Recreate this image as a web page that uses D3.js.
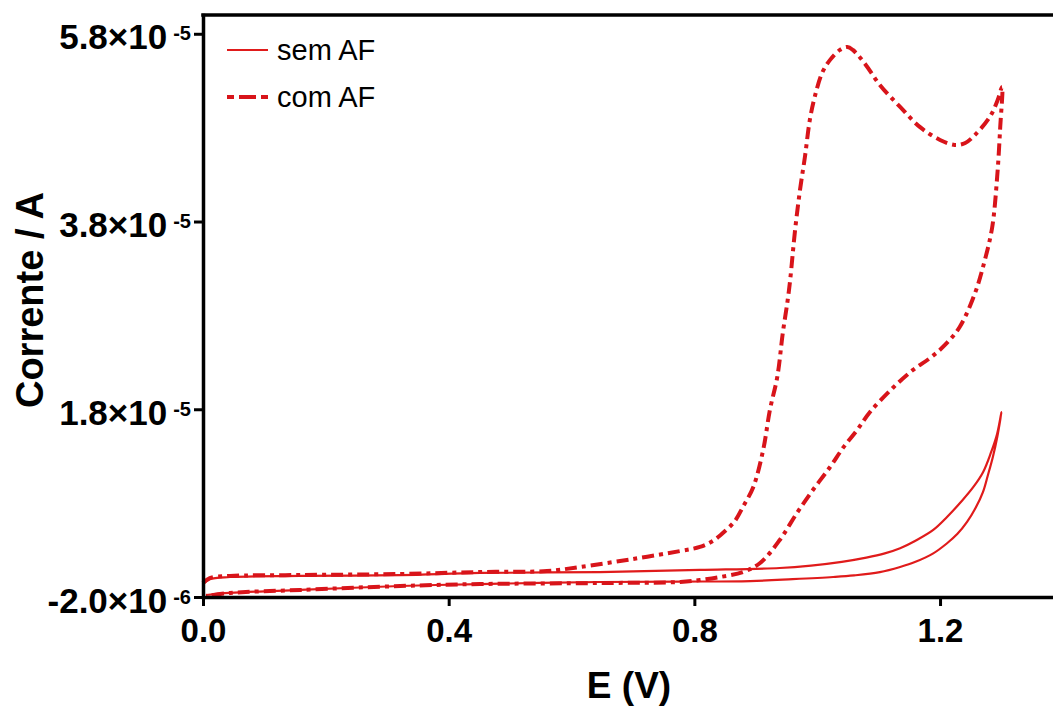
<!DOCTYPE html>
<html><head><meta charset="utf-8">
<script src="https://cdn.jsdelivr.net/npm/d3@7"></script>
<style>body{margin:0;background:#fff} svg{display:block}</style>
</head><body><svg id="c" width="1053" height="708"></svg>
<script>
// Potential (V) and current (units of 1e-5 A)
const semE = [0.000,0.011,0.044,0.158,0.321,0.451,0.646,0.809,0.939,0.990,1.040,1.080,1.110,1.135,1.160,1.189,1.211,1.235,1.254,1.270,1.283,1.293,1.300,
              1.293,1.286,1.278,1.270,1.258,1.244,1.228,1.211,1.189,1.160,1.135,1.102,1.060,1.026,0.960,0.891,0.780,0.646,0.451,0.321,0.158,0.044,0.005];
const semI = [-0.060,-0.010,0.013,0.024,0.034,0.056,0.066,0.088,0.109,0.135,0.175,0.220,0.265,0.320,0.400,0.515,0.650,0.820,0.970,1.130,1.340,1.540,1.771,
              1.500,1.292,1.100,0.920,0.750,0.600,0.470,0.370,0.265,0.175,0.120,0.065,0.030,0.013,-0.010,-0.030,-0.036,-0.040,-0.062,-0.083,-0.125,-0.157,-0.179];
const comE = [0.000,0.011,0.044,0.158,0.321,0.451,0.560,0.614,0.700,0.777,0.809,0.830,0.850,0.866,0.879,0.896,0.912,0.923,0.935,0.944,0.952,0.956,0.964,0.972,0.980,0.988,0.996,1.008,1.021,1.037,1.049,1.058,1.078,1.102,1.135,1.167,1.200,1.224,1.241,1.257,1.281,1.294,1.301,
              1.298,1.293,1.285,1.273,1.257,1.232,1.208,1.184,1.156,1.123,1.086,1.065,1.042,1.021,0.993,0.967,0.939,0.907,0.879,0.842,0.809,0.777,0.646,0.451,0.321,0.158,0.044,0.005];
const comI = [-0.051,0.002,0.024,0.034,0.045,0.066,0.077,0.120,0.205,0.290,0.333,0.397,0.503,0.610,0.759,0.972,1.366,1.793,2.144,2.613,2.965,3.178,3.710,4.137,4.488,4.882,5.128,5.383,5.522,5.628,5.660,5.628,5.479,5.255,5.021,4.808,4.669,4.616,4.637,4.723,4.914,5.096,5.234,
              4.808,4.275,3.742,3.391,3.039,2.677,2.485,2.347,2.219,2.027,1.771,1.579,1.388,1.185,0.940,0.695,0.407,0.162,0.066,0.013,-0.019,-0.040,-0.051,-0.062,-0.083,-0.125,-0.157,-0.189];
const seriesNames = ["sem AF","com AF"];
const xTicks = [0.0,0.4,0.8,1.2];
const xTickLabels = ["0.0","0.4","0.8","1.2"];
const yTicks = [-0.2,1.8,3.8,5.8];
const yTickMant = ["-2.0×10","1.8×10","3.8×10","5.8×10"];
const yTickExp = ["-6","-5","-5","-5"];
const xTitle = "E (V)";
const yTitle = "Corrente / A";

const svg = d3.select("#c");
const FONT = "'Liberation Sans', Arial, Helvetica, sans-serif";
const RED = "#e01b1b", RED2 = "#d8141a";
const x = d3.scaleLinear().domain([0,1.4]).range([203, 203+1.4*614.2]);
const y = d3.scaleLinear().domain([-0.2,6.0]).range([597, 15]);

const line = d3.line().x(d=>x(d[0])).y(d=>y(d[1])).curve(d3.curveCatmullRom.alpha(0.5));
const semData = semE.map((e,i)=>[e,semI[i]]);
const comData = comE.map((e,i)=>[e,comI[i]]);

svg.append("path").attr("d", line(semData)).attr("fill","none")
  .attr("stroke",RED).attr("stroke-width",2.2).attr("stroke-linejoin","round");
svg.append("path").attr("d", line(comData)).attr("fill","none")
  .attr("stroke",RED2).attr("stroke-width",4).attr("stroke-dasharray","12,5,4,5")
  .attr("stroke-linejoin","round");

// axes
const xAxis = d3.axisBottom(x).tickValues(xTicks).tickSize(9).tickSizeOuter(0).tickFormat((d,i)=>xTickLabels[i]);
const gx = svg.append("g").attr("transform","translate(0,597)").call(xAxis);
gx.select(".domain").attr("stroke","#000").attr("stroke-width",3.5);
gx.selectAll(".tick line").attr("stroke","#000").attr("stroke-width",3);
gx.selectAll(".tick text").attr("font-family",FONT).attr("font-weight","bold")
  .attr("font-size",33).attr("fill","#000").attr("dy",0).attr("y",45);

const yAxis = d3.axisLeft(y).tickValues(yTicks).tickSize(9).tickSizeOuter(0).tickFormat("");
const gy = svg.append("g").attr("transform","translate(203,0)").call(yAxis);
gy.select(".domain").attr("stroke","#000").attr("stroke-width",3.5).attr("stroke-linecap","square");
gy.selectAll(".tick line").attr("stroke","#000").attr("stroke-width",3);
gy.selectAll(".tick").each(function(d,i){
  const t = d3.select(this).append("text").attr("x",-12).attr("y",15)
    .attr("text-anchor","end").attr("font-family",FONT).attr("font-weight","bold")
    .attr("font-size",35).attr("fill","#000");
  t.append("tspan").text(yTickMant[i]);
  t.append("tspan").attr("font-size",20).attr("dx",6).attr("dy",-9).text(yTickExp[i]);
});

// top frame line
svg.append("line").attr("x1",203).attr("x2",x(1.4)).attr("y1",15).attr("y2",15)
  .attr("stroke","#000").attr("stroke-width",3.5).attr("stroke-linecap","square");

// titles
svg.append("text").attr("x",629).attr("y",698).attr("text-anchor","middle")
  .attr("font-family",FONT).attr("font-weight","bold").attr("font-size",37).text(xTitle);
svg.append("text").attr("transform","translate(43,300) rotate(-90)").attr("text-anchor","middle")
  .attr("font-family",FONT).attr("font-weight","bold").attr("font-size",38).text(yTitle);

// legend
const leg = svg.append("g");
leg.append("line").attr("x1",227).attr("x2",268).attr("y1",50).attr("y2",50)
  .attr("stroke",RED).attr("stroke-width",2.2);
leg.append("line").attr("x1",227).attr("x2",268).attr("y1",97).attr("y2",97)
  .attr("stroke",RED2).attr("stroke-width",4).attr("stroke-dasharray","7,5,17,5,7");
leg.append("text").attr("x",277).attr("y",60).attr("font-family",FONT).attr("font-size",29).text(seriesNames[0]);
leg.append("text").attr("x",277).attr("y",107).attr("font-family",FONT).attr("font-size",29).text(seriesNames[1]);
</script></body></html>
